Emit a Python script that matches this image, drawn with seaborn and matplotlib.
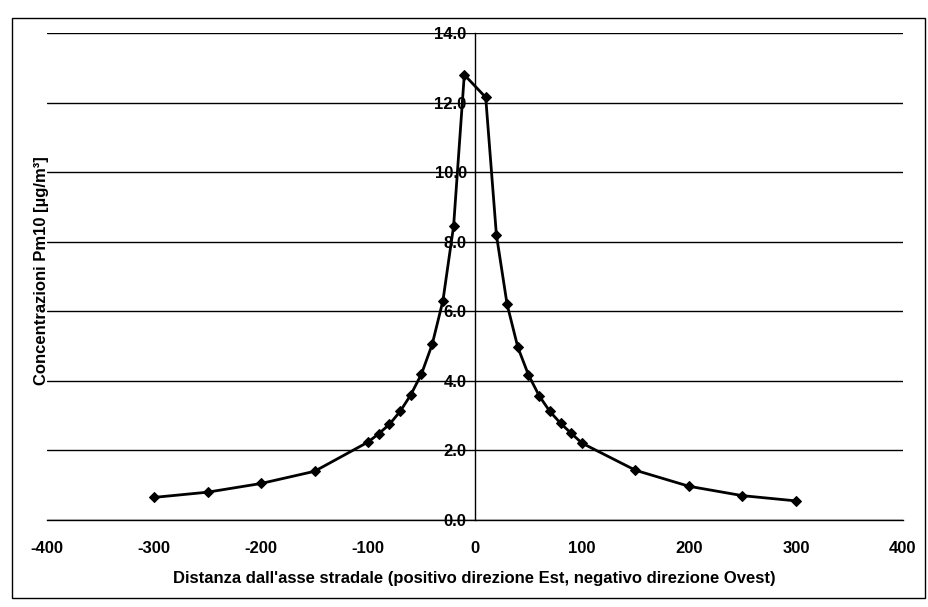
import matplotlib
matplotlib.use("Agg")
import matplotlib.pyplot as plt
from matplotlib.patches import Rectangle
import seaborn as sns
import pandas as pd

# Data
distanza = [-300, -250, -200, -150, -100, -90, -80, -70, -60, -50, -40, -30, -20, -10,
            10, 20, 30, 40, 50, 60, 70, 80, 90, 100, 150, 200, 250, 300]
concentrazione = [0.65, 0.80, 1.05, 1.40, 2.24, 2.48, 2.75, 3.12, 3.60, 4.20, 5.05, 6.30, 8.45, 12.80,
                  12.15, 8.20, 6.20, 4.97, 4.17, 3.57, 3.12, 2.78, 2.49, 2.21, 1.43, 0.97, 0.70, 0.55]
x_ticks = [-400, -300, -200, -100, 0, 100, 200, 300, 400]
y_ticks = [0, 2, 4, 6, 8, 10, 12, 14]
x_label = "Distanza dall'asse stradale (positivo direzione Est, negativo direzione Ovest)"
y_label = "Concentrazioni Pm10 [µg/m³]"

df = pd.DataFrame({"x": distanza, "y": concentrazione})

sns.set_style("white")
plt.rcParams['font.family'] = ['Liberation Sans', 'DejaVu Sans']
plt.rcParams['text.color'] = 'black'
plt.rcParams['axes.labelcolor'] = 'black'
plt.rcParams['xtick.color'] = 'black'
plt.rcParams['ytick.color'] = 'black'

fig = plt.figure(figsize=(9.29, 6.07), dpi=100)
ax = fig.add_axes([0.0506, 0.1433, 0.9214, 0.8023])

for s in ["top", "right"]:
    ax.spines[s].set_visible(False)
ax.spines["left"].set_position(("data", 0))
ax.spines["left"].set_color("black")
ax.spines["left"].set_linewidth(1.0)
ax.spines["left"].set_zorder(2)
ax.spines["bottom"].set_color("black")
ax.spines["bottom"].set_linewidth(1.0)

for yt in y_ticks:
    ax.axhline(yt, color="black", linewidth=1.0, zorder=1)

sns.lineplot(data=df, x="x", y="y", ax=ax, color="black", linewidth=2.0,
             marker="D", markersize=5, markeredgecolor="black", markerfacecolor="black",
             sort=False, zorder=3)

ax.set_xlim(-400, 400)
ax.set_ylim(0, 14)
ax.set_xticks(x_ticks)
ax.set_yticks(y_ticks)
ax.tick_params(axis="x", direction="out", length=5, width=1, color="black", pad=10,
               labelsize=12, labelcolor="black")
ax.tick_params(axis="y", direction="out", length=4, width=1, color="black", pad=2,
               labelsize=12, labelcolor="black")
ax.set_xticklabels([str(t) for t in x_ticks], fontweight="bold")
ax.set_yticklabels([f"{t:.1f}" for t in y_ticks], fontweight="bold")
for lbl in ax.get_yticklabels():
    lbl.set_bbox(dict(facecolor="white", edgecolor="none", pad=0.3))

ax.set_xlabel("")
ax.set_ylabel("")
fig.text(474 / 929, 1 - 578 / 607, x_label, ha="center", va="center",
         fontsize=12, fontweight="bold", color="black")
fig.text(42 / 929, 1 - 271 / 607, y_label, ha="center", va="center",
         rotation=90, fontsize=12, fontweight="bold", color="black")

# outer chart border
fig.patches.append(Rectangle((12 / 929, 9 / 607), (925 - 12) / 929, (598 - 18) / 607,
                             transform=fig.transFigure, fill=False,
                             edgecolor="black", linewidth=1.0))

fig.savefig("out.png", dpi=100, facecolor="white")
